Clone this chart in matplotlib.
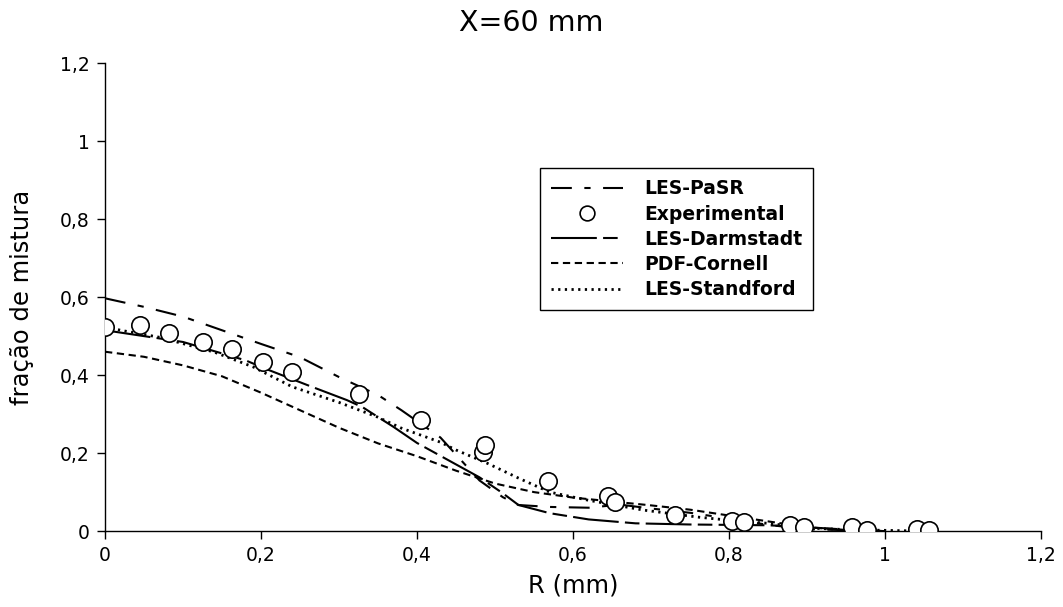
import matplotlib
matplotlib.use("Agg")
import matplotlib.pyplot as plt
from matplotlib.ticker import FixedLocator, FuncFormatter

# Experimental data
exp_r = [0.0, 0.045, 0.082, 0.126, 0.163, 0.203, 0.240, 0.326, 0.405, 0.485, 0.487,
         0.568, 0.645, 0.654, 0.731, 0.804, 0.819, 0.878, 0.896, 0.958, 0.977, 1.041, 1.056]
exp_f = [0.523, 0.528, 0.508, 0.485, 0.467, 0.433, 0.408, 0.351, 0.285, 0.203, 0.221,
         0.128, 0.090, 0.074, 0.041, 0.026, 0.023, 0.015, 0.010, 0.010, 0.003, 0.005, 0.003]

# LES-PaSR
pasr_r = [0.0, 0.05, 0.10, 0.15, 0.20, 0.25, 0.30, 0.35, 0.38, 0.43, 0.46, 0.48, 0.51,
          0.53, 0.57, 0.62, 0.66, 0.70, 0.75, 0.80, 0.85, 0.90, 1.0]
pasr_f = [0.597, 0.575, 0.550, 0.515, 0.480, 0.446, 0.395, 0.349, 0.310, 0.240, 0.174,
          0.130, 0.087, 0.067, 0.062, 0.060, 0.068, 0.058, 0.047, 0.032, 0.016, 0.005, 0.0]

# LES-Darmstadt
darm_r = [0.0, 0.10, 0.18, 0.21, 0.26, 0.31, 0.33, 0.37, 0.40, 0.44, 0.48, 0.51, 0.53,
          0.57, 0.62, 0.68, 0.75, 0.85, 0.90, 0.95, 1.0]
darm_f = [0.515, 0.485, 0.438, 0.413, 0.374, 0.336, 0.318, 0.267, 0.226, 0.182, 0.138,
          0.097, 0.067, 0.046, 0.030, 0.020, 0.017, 0.015, 0.010, 0.004, 0.0]

# PDF-Cornell
corn_r = [0.0, 0.05, 0.10, 0.15, 0.20, 0.25, 0.30, 0.35, 0.40, 0.45, 0.50, 0.55, 0.60,
          0.65, 0.70, 0.75, 0.80, 0.85, 0.90, 0.95, 1.0]
corn_f = [0.460, 0.447, 0.425, 0.397, 0.355, 0.310, 0.265, 0.225, 0.192, 0.155, 0.122,
          0.100, 0.086, 0.076, 0.066, 0.055, 0.040, 0.025, 0.010, 0.003, 0.0]

# LES-Standford
stan_r = [0.0, 0.02, 0.07, 0.14, 0.19, 0.24, 0.30, 0.35, 0.38, 0.43, 0.45, 0.49, 0.53,
          0.57, 0.62, 0.69, 0.76, 0.80, 0.85, 0.90, 0.95, 1.05]
stan_f = [0.525, 0.515, 0.497, 0.459, 0.421, 0.370, 0.330, 0.292, 0.264, 0.228, 0.208,
          0.174, 0.136, 0.100, 0.079, 0.054, 0.036, 0.028, 0.020, 0.008, 0.004, 0.0]

x_ticks = [0, 0.2, 0.4, 0.6, 0.8, 1.0, 1.2]
y_ticks = [0, 0.2, 0.4, 0.6, 0.8, 1.0, 1.2]

plt.rcParams['font.family'] = ['DejaVu Sans']

fig = plt.figure(figsize=(10.63, 6.07), dpi=100)
ax = fig.add_axes([0.0988, 0.125, 0.8806, 0.771])

ax.plot(pasr_r, pasr_f, color='black', lw=1.5, linestyle=(0, (10, 6, 3, 6)),
        label='LES-PaSR')
ax.plot(exp_r, exp_f, linestyle='none', marker='o', markersize=12.5,
        markerfacecolor='white', markeredgecolor='black', markeredgewidth=1.2,
        label='Experimental', zorder=5)
ax.plot(darm_r, darm_f, color='black', lw=1.5, linestyle=(0, (22, 3, 7, 3)),
        label='LES-Darmstadt')
ax.plot(corn_r, corn_f, color='black', lw=1.5, linestyle=(0, (3.5, 2.2)),
        label='PDF-Cornell')
ax.plot(stan_r, stan_f, color='black', lw=2.0, linestyle=(0, (0.8, 1.6)),
        label='LES-Standford')

ax.set_xlim(0, 1.2)
ax.set_ylim(0, 1.2)
ax.spines['top'].set_visible(False)
ax.spines['right'].set_visible(False)
ax.spines['left'].set_linewidth(1.0)
ax.spines['bottom'].set_linewidth(1.0)

fmt = FuncFormatter(lambda v, p: ('%g' % round(v, 2)).replace('.', ','))
ax.xaxis.set_major_locator(FixedLocator(x_ticks))
ax.yaxis.set_major_locator(FixedLocator(y_ticks))
ax.xaxis.set_major_formatter(fmt)
ax.yaxis.set_major_formatter(fmt)
ax.tick_params(direction='out', length=6, width=1.0, labelsize=13.5,
               colors='black', pad=5)

ax.set_xlabel('R (mm)', fontsize=17.5, labelpad=6)
ax.set_ylabel('fração de mistura', fontsize=17.5)
ax.yaxis.set_label_coords(-0.076, 0.5)
fig.text(0.5, 1 - 23 / 607, 'X=60 mm', fontsize=20.5, ha='center', va='center')

leg = ax.legend(loc='upper left', bbox_to_anchor=(0.4647, 0.7756), borderaxespad=0,
                frameon=True, fancybox=False, edgecolor='black', framealpha=1,
                prop={'weight': 'bold', 'size': 13.5}, handlelength=3.85,
                labelspacing=0.33, borderpad=0.6, handletextpad=1.1,
                markerscale=0.85)
leg.get_frame().set_linewidth(1.0)

fig.savefig('out.png', dpi=100)
